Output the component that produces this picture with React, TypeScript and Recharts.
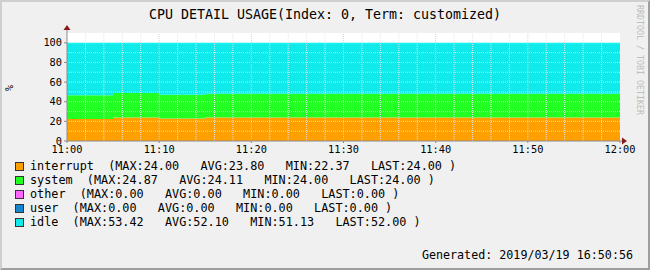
import React from 'react';
import { AreaChart, Area, XAxis, YAxis, ReferenceLine } from 'recharts';

// minutes after 11:00, one sample every 5 minutes
const minutes = [0, 5, 10, 15, 20, 25, 30, 35, 40, 45, 50, 55, 60];
const interrupt = [22.37, 24.0, 22.8, 24.0, 24.0, 24.0, 24.0, 24.0, 24.0, 24.0, 24.0, 24.0, 24.0];
const system = [24.21, 24.87, 24.2, 24.0, 24.0, 24.0, 24.0, 24.0, 24.0, 24.0, 24.0, 24.0, 24.0];
const other = [0, 0, 0, 0, 0, 0, 0, 0, 0, 0, 0, 0, 0];
const user = [0, 0, 0, 0, 0, 0, 0, 0, 0, 0, 0, 0, 0];
const idle = [53.42, 51.13, 53.0, 52.0, 52.0, 52.0, 52.0, 52.0, 52.0, 52.0, 52.0, 52.0, 52.0];

const xTicks = [0, 10, 20, 30, 40, 50, 60];
const xTickLabels = ['11:00', '11:10', '11:20', '11:30', '11:40', '11:50', '12:00'];
const yTicks = [0, 20, 40, 60, 80, 100];
const xMinorGrid = [2, 4, 6, 8, 12, 14, 16, 18, 22, 24, 26, 28, 32, 34, 36, 38, 42, 44, 46, 48, 52, 54, 56, 58];
const yGrid = [10, 20, 30, 40, 50, 60, 70, 80, 90, 100];

const seriesNames = ['interrupt', 'system', 'other', 'user', 'idle'];
const seriesColors = ['#FFA000', '#22FF22', '#FF66FF', '#1485CF', '#10EAEA'];
const legendLines = [
  'interrupt  (MAX:24.00   AVG:23.80   MIN:22.37   LAST:24.00 )',
  'system  (MAX:24.87   AVG:24.11   MIN:24.00   LAST:24.00 )',
  'other  (MAX:0.00   AVG:0.00   MIN:0.00   LAST:0.00 )',
  'user  (MAX:0.00   AVG:0.00   MIN:0.00   LAST:0.00 )',
  'idle  (MAX:53.42   AVG:52.10   MIN:51.13   LAST:52.00 )',
];

const data = minutes.map((m, i) => ({
  t: m,
  interrupt: interrupt[i],
  system: system[i],
  other: other[i],
  user: user[i],
  idle: idle[i],
}));

const FONT = '"DejaVu Sans Mono", monospace';
const AXIS = '#8a8a8a';
const ARROW = '#8B1A1A';
const GRID = '#E4E4E4';
const MGRID = '#D2D2D2';

export default function App() {
  return (
    <div
      style={{
        position: 'absolute',
        left: 0,
        top: 0,
        width: 650,
        height: 270,
        boxSizing: 'border-box',
        background: '#F0F0F0',
        borderTop: '2px solid #CFCFCF',
        borderLeft: '2px solid #CFCFCF',
        borderRight: '2px solid #9E9E9E',
        borderBottom: '2px solid #9E9E9E',
        fontFamily: FONT,
        overflow: 'hidden',
      }}
    >
      <div style={{ position: 'absolute', left: -2, top: -2 }}>
        <AreaChart
          width={650}
          height={270}
          data={data}
          margin={{ top: 33, right: 30, bottom: 0, left: 0 }}
        >
          <rect x={67} y={33} width={553} height={108} fill="#FFFFFF" />
          {seriesNames.map((name, i) => (
            <Area
              key={name}
              dataKey={name}
              stackId="cpu"
              type="stepAfter"
              fill={seriesColors[i]}
              fillOpacity={1}
              stroke="none"
              isAnimationActive={false}
            />
          ))}
          {xMinorGrid.map((x) => (
            <ReferenceLine key={'vx' + x} x={x} stroke={GRID} strokeDasharray="1 1" />
          ))}
          {yGrid.map((y) => (
            <ReferenceLine key={'hy' + y} y={y} stroke={GRID} strokeDasharray="1 1" />
          ))}
          {xTicks.slice(1, -1).map((x) => (
            <ReferenceLine key={'vm' + x} x={x} stroke={MGRID} strokeDasharray="1 1" />
          ))}
          <XAxis
            dataKey="t"
            type="number"
            domain={[0, 60]}
            ticks={xTicks}
            tickFormatter={(v) => xTickLabels[xTicks.indexOf(v)]}
            height={129}
            stroke={AXIS}
            tickSize={2}
            tickMargin={3}
            tick={{ fill: '#000', fontSize: 10.3, fontFamily: FONT }}
            interval={0}
            allowDataOverflow
          />
          <YAxis
            type="number"
            domain={[0, 110]}
            ticks={yTicks}
            width={67}
            stroke={AXIS}
            tickSize={3}
            tickMargin={2}
            tick={{ fill: '#000', fontSize: 10.3, fontFamily: FONT }}
            interval={0}
            allowDataOverflow
          />
        </AreaChart>
      </div>

      <svg
        width={650}
        height={270}
        style={{ position: 'absolute', left: -2, top: -2, pointerEvents: 'none' }}
      >
        <line x1={67} y1={27} x2={67} y2={33} stroke={AXIS} />
        <polygon points="63.5,30 70.5,30 67,25" fill={ARROW} />
        <line x1={620} y1={141} x2={625} y2={141} stroke={AXIS} />
        <polygon points="622,137.5 622,144.5 627,141" fill={ARROW} />
        <text
          x={13}
          y={88}
          transform="rotate(-90 13 88)"
          textAnchor="middle"
          fontSize={10}
          fontFamily={FONT}
          fill="#000"
        >
          %
        </text>
        <text
          x={325}
          y={19}
          textAnchor="middle"
          fontSize={13.3}
          fontFamily={FONT}
          fill="#000"
        >
          CPU DETAIL USAGE(Index: 0, Term: customized)
        </text>
        <text
          x={637}
          y={5}
          transform="rotate(90 637 5)"
          fontSize={8.3}
          fontFamily={FONT}
          fill="#BDBDBD"
        >
          RRDTOOL / TOBI OETIKER
        </text>
      </svg>

      {legendLines.map((line, i) => (
        <div
          key={line}
          style={{
            position: 'absolute',
            left: 13,
            top: 157 + i * 14,
            height: 14,
            display: 'flex',
            alignItems: 'center',
          }}
        >
          <div
            style={{
              width: 9,
              height: 9,
              boxSizing: 'border-box',
              background: seriesColors[i],
              border: '1px solid #333',
              marginRight: 6,
            }}
          />
          <span style={{ fontSize: 11.8, whiteSpace: 'pre', lineHeight: '14px', color: '#000' }}>
            {line}
          </span>
        </div>
      ))}

      <div
        style={{
          position: 'absolute',
          right: 15,
          top: 246,
          fontSize: 11.7,
          lineHeight: '14px',
          whiteSpace: 'pre',
          color: '#000',
        }}
      >
        Generated: 2019/03/19 16:50:56
      </div>
    </div>
  );
}
